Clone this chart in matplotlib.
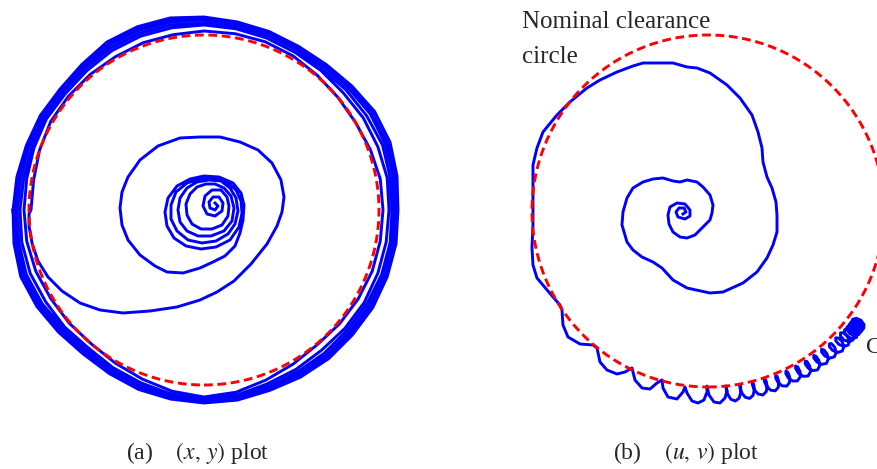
import numpy as np
import matplotlib.pyplot as plt
from matplotlib.patches import Circle

plt.rcParams['mathtext.fontset'] = 'stix'
plt.rcParams['font.family'] = ['Liberation Serif', 'DejaVu Serif']

# ---- (a) (x, y) plot : inner whirl loops, spiral out, then orbits on the clearance ----
whirl_x = [11, 14, 11, 6, 5, 9, 15, 19, 18, 11, 3, -1, 1, 8, 17, 23,
           25, 24, 18, 8, -3, -12, -17, -18, -14, -7, 2, 11, 20,
           27, 30, 28, 20, 7, -6, -17, -24, -26, -24, -17, -7, 5, 17, 26,
           32, 34, 31, 24, 12, -2, -16, -27, -33, -33, -28, -17, -4, 10, 23, 32,
           37, 38, 35, 26, 12, -3, -18, -30, -37, -39, -36, -27, -14, 0, 15, 29, 37, 40]
whirl_y = [7, 4, 0, 2, 8, 13, 13, 7, -1, -6, -4, 4, 14, 20, 20, 13,
           4, -6, -15, -19, -19, -14, -5, 6, 16, 23, 26, 26, 22,
           14, 2, -11, -21, -26, -26, -21, -12, 0, 12, 22, 28, 30, 29, 22,
           12, -1, -14, -24, -31, -33, -30, -21, -9, 5, 18, 27, 31, 32, 28, 20,
           9, -3, -17, -30, -37, -39, -36, -28, -16, -2, 12, 24, 31, 34, 33, 27, 17, 5]

spiral_x = [39, 36, 31, 21, 9, -4, -21, -37, -49, -64, -76, -82, -84, -82, -76,
            -64, -46, -24, -4, 16, 36, 54, 68, 77, 80, 78, 73, 63, 47, 30, 13,
            -4, -27, -54, -81, -104, -124, -142, -156, -166, -172, -175, -175]
spiral_y = [-10, -23, -36, -46, -52, -58, -63, -62, -56, -45, -30, -15, 2, 18, 33,
            50, 64, 72, 73, 73, 68, 60, 47, 30, 13, -2, -16, -34, -54, -71, -82,
            -90, -97, -101, -103, -100, -93, -81, -67, -51, -33, -16, -4]

# orbit readings: angle (deg, every 10) and radius, six passes round the clearance
orbit_deg = [180, 170, 160, 150, 140, 130, 120, 110, 100, 90, 80, 70,
             60, 50, 40, 30, 20, 10, 0, -10, -20, -30, -40, -50,
             -60, -70, -80, -90, -100, -110, -120, -130, -140, -150, -160, -170]
orbit_r1 = [173, 173, 175, 177, 177, 177, 177, 178, 178, 179, 179, 179,
            178, 176, 175, 175, 177, 179, 179, 179, 179, 178, 177, 176,
            178, 181, 185, 187, 184, 180, 177, 175, 176, 177, 179, 180]
orbit_r2 = [180, 180, 181, 182, 181, 182, 184, 185, 185, 185, 184, 183,
            182, 182, 182, 184, 185, 186, 185, 185, 185, 185, 184, 183,
            184, 185, 188, 189, 187, 184, 182, 180, 182, 183, 185, 185]
orbit_r3 = [184, 183, 183, 184, 184, 185, 187, 188, 188, 187, 186, 186,
            185, 184, 186, 188, 190, 189, 188, 189, 189, 188, 187, 187,
            187, 188, 190, 191, 189, 187, 184, 183, 184, 187, 189, 188]
orbit_r4 = [187, 186, 186, 186, 185, 187, 190, 191, 191, 190, 188, 187,
            186, 187, 189, 192, 193, 192, 190, 191, 191, 191, 190, 190,
            189, 189, 191, 192, 190, 188, 186, 185, 187, 189, 191, 190]
orbit_r5 = [189, 188, 187, 188, 187, 188, 192, 193, 193, 191, 190, 189,
            188, 188, 191, 194, 195, 194, 192, 193, 193, 193, 192, 192,
            191, 191, 192, 192, 191, 190, 188, 186, 188, 191, 193, 191]
orbit_r6 = [191, 190, 189, 189, 188, 190, 194, 195, 195, 193, 191, 190,
            189, 190, 193, 197, 198, 196, 194, 195, 195, 195, 194, 194,
            193, 192, 193, 193, 192, 191, 189, 188, 190, 193, 195, 193, 191]

clearance_xy = 175

# ---- (b) (u, v) plot ----
uv_x = [-25, -22, -24, -29, -32, -30, -23, -18, -18, -23,
        -31, -38, -40, -39, -35, -28, -21, -13, -5, 2,
        4, 5, 2, -5, -11, -21, -28, -35, -45, -55,
        -65, -75, -81, -85, -86, -81, -75, -66, -55, -46,
        -35, -21, 2, 15, 35, 49, 59, 65, 69, 69,
        68, 64, 59, 55, 54, 50, 44, 32, 19, 2,
        -11, -21, -35, -65, -75, -91, -108, -121, -138, -151,
        -165, -171, -175, -175, -175, -176, -175, -171, -155, -148,
        -146, -145, -140, -128, -115, -111, -108, -101, -91, -83,
        -76, -73, -66, -58, -51, -46, -45, -40, -31, -25,
        -23, -21, -16, -10, -4, -1, -1, 1, 6, 12, 17, 19, 18]
uv_y = [-3, -1, 3, 3, -1, -6, -8, -5, 1, 7,
        8, 4, -4, -13, -21, -26, -27, -24, -16, -9,
        -2, 6, 16, 24, 29, 31, 29, 30, 33, 32,
        29, 23, 13, -1, -14, -31, -39, -46, -51, -57,
        -69, -77, -82, -81, -72, -61, -47, -34, -21, -4,
        9, 23, 34, 49, 63, 79, 96, 113, 126, 138,
        143, 144, 148, 148, 145, 139, 131, 123, 109, 96,
        79, 63, 46, 26, -14, -37, -54, -67, -86, -94,
        -99, -114, -126, -133, -134, -137, -151, -159, -163, -161,
        -157, -169, -177, -178, -172, -169, -177, -186, -188, -181,
        -176, -182, -190, -192, -189, -181, -175, -184, -191, -192, -187, -180, -175]

# rubbing loops along the clearance: angle from 6 o'clock (deg) and radius
loop_phi = [6.0, 5.84, 6.1, 6.94, 8.2, 9.46, 10.3, 10.56,
            10.4, 10.22, 10.45, 11.27, 12.5, 13.73, 14.55, 14.78,
            14.6, 14.32, 14.5, 15.32, 16.6, 17.88, 18.7, 18.88,
            18.6, 18.3, 18.45, 19.25, 20.5, 21.75, 22.55, 22.7,
            22.4, 22.07, 22.2, 22.97, 24.2, 25.43, 26.2, 26.33,
            26.0, 25.59, 25.67, 26.46, 27.75, 29.04, 29.83, 29.91,
            29.5, 29.08, 29.15, 29.93, 31.2, 32.47, 33.25, 33.32,
            32.9, 32.46, 32.52, 33.29, 34.55, 35.81, 36.58, 36.64,
            36.2, 35.75, 35.8, 36.55, 37.8, 39.05, 39.8, 39.85,
            39.4, 38.86, 38.85, 39.61, 40.9, 42.19, 42.95, 42.94,
            42.4, 41.83, 41.8, 42.53, 43.8, 45.07, 45.8, 45.77,
            45.2, 44.56, 44.45, 45.11, 46.3, 47.49, 48.15, 48.04,
            47.4, 46.68, 46.5, 47.08, 48.2, 49.32, 49.9, 49.72,
            49.0, 48.23, 48.0, 48.53, 49.6, 50.67, 51.2, 50.97,
            50.2, 49.41, 49.15, 49.66, 50.7, 51.74, 52.25, 51.99,
            51.2, 50.38, 50.1, 50.58, 51.6, 52.62, 53.1, 52.82,
            52.0, 51.17, 50.87, 51.34, 52.35, 53.36, 53.83, 53.53,
            52.7, 51.86, 51.55, 52.01, 53.0, 53.99, 54.45, 54.14,
            53.3]
loop_r = [176, 178.3, 184, 189.7, 192, 189.7, 184, 178.3,
          177, 179.2, 184.5, 189.8, 192, 189.8, 184.5, 179.2,
          177, 179.2, 184.5, 189.8, 192, 189.8, 184.5, 179.2,
          177, 179.2, 184.5, 189.8, 192, 189.8, 184.5, 179.2,
          178, 180.1, 185, 189.9, 192, 189.9, 185, 180.1,
          178, 180.1, 185, 189.9, 192, 189.9, 185, 180.1,
          178, 180.2, 185.5, 190.8, 193, 190.8, 185.5, 180.2,
          179, 181.1, 186, 190.9, 193, 190.9, 186, 181.1,
          179, 181.1, 186, 190.9, 193, 190.9, 186, 181.1,
          179, 181.1, 186, 190.9, 193, 190.9, 186, 181.1,
          180, 182.1, 187, 191.9, 194, 191.9, 187, 182.1,
          180, 182.1, 187, 191.9, 194, 191.9, 187, 182.1,
          180, 182.1, 187, 191.9, 194, 191.9, 187, 182.1,
          181, 183.1, 188, 192.9, 195, 192.9, 188, 183.1,
          181, 183.1, 188, 192.9, 195, 192.9, 188, 183.1,
          181, 183.1, 188, 192.9, 195, 192.9, 188, 183.1,
          181, 183.1, 188, 192.9, 195, 192.9, 188, 183.1,
          181, 183.1, 188, 192.9, 195, 192.9, 188, 183.1,
          181]

clearance_uv = 176

blue = '#0000ff'
red = '#ff0000'
lw = 2.1
dash = (0, (3, 1.6))

fig = plt.figure(figsize=(8.77, 4.69), dpi=100)

# left panel
ax1 = fig.add_axes([0.0, 0.1258, 0.4675, 0.8529])
ang = np.radians(orbit_deg * 6 + [180])
rad = np.array(orbit_r1 + orbit_r2 + orbit_r3 + orbit_r4 + orbit_r5 + orbit_r6)
xs = np.concatenate([whirl_x, spiral_x, rad * np.cos(ang)])
ys = np.concatenate([whirl_y, spiral_y, rad * np.sin(ang)])
ax1.plot(xs, ys, color=blue, lw=lw, solid_joinstyle='round', zorder=2)
ax1.add_patch(Circle((0, 0), clearance_xy, fill=False, ec=red, lw=lw,
                     ls=dash, zorder=3))
ax1.set_xlim(-204, 206)
ax1.set_ylim(-200, 200)
ax1.axis('off')

# right panel
ax2 = fig.add_axes([0.5701, 0.1258, 0.4299, 0.8529])
phi = np.radians(loop_phi)
lr = np.array(loop_r)
us = np.concatenate([uv_x, lr * np.sin(phi)])
vs = np.concatenate([uv_y, -lr * np.cos(phi)])
ax2.plot(us, vs, color=blue, lw=lw, solid_joinstyle='round', zorder=2)
ax2.add_patch(Circle((0, 0), clearance_uv, fill=False, ec=red, lw=lw,
                     ls=dash, zorder=3))
ax2.set_xlim(-208, 169)
ax2.set_ylim(-199, 201)
ax2.axis('off')

txt = '#262626'
H = 469.0
fig.text(126 / 877, 1 - 459 / H, r'(a)    $(x,\,y)$ plot', fontsize=17,
         color=txt, ha='left', va='baseline')
fig.text(613 / 877, 1 - 459 / H, r'(b)    $(u,\,v)$ plot', fontsize=17,
         color=txt, ha='left', va='baseline')
fig.text(522 / 877, 1 - 28 / H, 'Nominal clearance', fontsize=18,
         color=txt, ha='left', va='baseline')
fig.text(522 / 877, 1 - 63 / H, 'circle', fontsize=18,
         color=txt, ha='left', va='baseline')
fig.text(866 / 877, 1 - 353 / H, 'C', fontsize=17,
         color=txt, ha='left', va='baseline')

fig.savefig('out.png', dpi=100)
